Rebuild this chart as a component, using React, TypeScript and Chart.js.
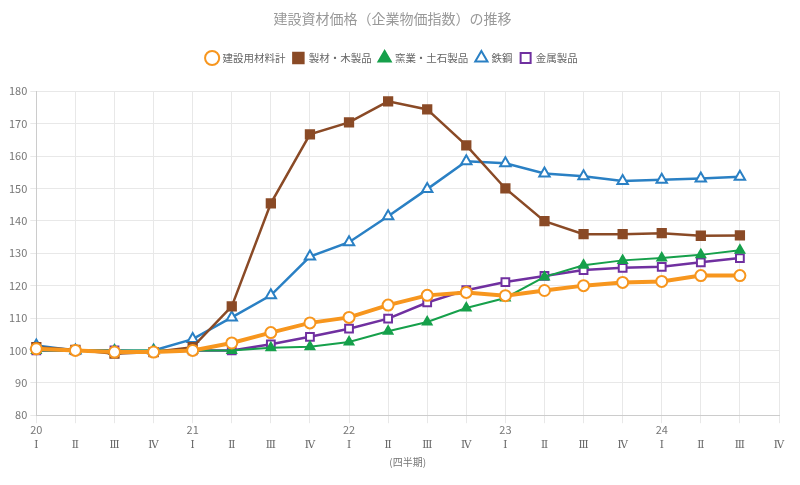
import React, { useEffect, useRef } from "react";
import { Chart, registerables } from "chart.js";

Chart.register(...registerables);

const years = ["20", "", "", "", "21", "", "", "", "22", "", "", "", "23", "", "", "", "24", "", "", ""];
const quarters = ["Ⅰ", "Ⅱ", "Ⅲ", "Ⅳ", "Ⅰ", "Ⅱ", "Ⅲ", "Ⅳ", "Ⅰ", "Ⅱ", "Ⅲ", "Ⅳ", "Ⅰ", "Ⅱ", "Ⅲ", "Ⅳ", "Ⅰ", "Ⅱ", "Ⅲ", "Ⅳ"];

const kenzaiTotal = [100.5, 100, 99.5, 99.5, 100, 102.3, 105.5, 108.5, 110.2, 114, 117, 117.9, 116.9, 118.5, 120, 121, 121.3, 123.1, 123.1, null];
const lumber = [101, 100.2, 99, 99.5, 101, 113.6, 145.4, 166.7, 170.4, 176.9, 174.4, 163.3, 150, 139.9, 135.9, 135.9, 136.2, 135.4, 135.5, null];
const ceramics = [100, 100, 100, 100, 100, 100, 100.8, 101.1, 102.6, 105.9, 108.8, 113.1, 116.2, 122.7, 126.3, 127.8, 128.5, 129.5, 130.9, null];
const steel = [101.5, 100, 99.8, 100, 103.5, 110.2, 117, 129, 133.4, 141.4, 149.8, 158.4, 157.8, 154.6, 153.8, 152.3, 152.7, 153.1, 153.6, null];
const metal = [100, 100, 100, 99.5, 100, 100, 101.9, 104.2, 106.7, 109.8, 114.8, 118.6, 121.1, 123, 124.8, 125.5, 125.8, 127.2, 128.5, null];

const labels = years.map((y, i) => `${y}-${i}`);

const FONT = "'Noto Sans CJK JP', 'Noto Sans', sans-serif";

const legendMargin = {
  id: "legendMargin",
  beforeInit(chart: any) {
    const legend = chart.legend;
    const orig = legend.fit;
    legend.fit = function () {
      orig.bind(legend)();
      this.height += 18;
    };
  },
};

export default function App() {
  const ref = useRef<HTMLCanvasElement | null>(null);
  useEffect(() => {
    document.body.style.margin = "0";
    const ctx = ref.current!;
    const chart = new Chart(ctx, {
      type: "line",
      plugins: [legendMargin],
      data: {
        labels,
        datasets: [
          {
            label: "建設用材料計",
            data: kenzaiTotal,
            borderColor: "#f7961e",
            backgroundColor: "#ffffff",
            borderWidth: 4,
            pointStyle: "circle",
            pointRadius: 5.5,
            pointBorderWidth: 2,
            pointBorderColor: "#f7961e",
            pointBackgroundColor: "#ffffff",
          },
          {
            label: "製材・木製品",
            data: lumber,
            borderColor: "#8a4a26",
            backgroundColor: "#8a4a26",
            borderWidth: 2.5,
            pointStyle: "rect",
            pointRadius: 5.5,
            pointBackgroundColor: "#8a4a26",
          },
          {
            label: "窯業・土石製品",
            data: ceramics,
            borderColor: "#16a04b",
            backgroundColor: "#16a04b",
            borderWidth: 2,
            pointStyle: "triangle",
            pointRadius: 5,
            pointBackgroundColor: "#16a04b",
          },
          {
            label: "鉄鋼",
            data: steel,
            borderColor: "#2a80c4",
            backgroundColor: "#ffffff",
            borderWidth: 2.5,
            pointStyle: "triangle",
            pointRadius: 6,
            pointBorderWidth: 2,
            pointBackgroundColor: "#ffffff",
          },
          {
            label: "金属製品",
            data: metal,
            borderColor: "#7030a0",
            backgroundColor: "#ffffff",
            borderWidth: 2.5,
            pointStyle: "rect",
            pointRadius: 5.5,
            pointBorderWidth: 2,
            pointBackgroundColor: "#ffffff",
          },
        ],
      },
      options: {
        animation: false,
        responsive: false,
        maintainAspectRatio: false,
        layout: { padding: { left: 6, right: 21, top: 6, bottom: 13 } },
        plugins: {
          title: {
            display: true,
            text: "建設資材価格（企業物価指数）の推移",
            color: "#999",
            font: { family: FONT, size: 14, weight: "normal" },
            padding: { top: 4, bottom: 18 },
          },
          legend: {
            position: "top",
            labels: {
              usePointStyle: true,
              boxWidth: 10,
              boxHeight: 10,
              padding: 8,
              color: "#666",
              font: { family: FONT, size: 10.5 },
            },
          },
          tooltip: { enabled: false },
        },
        scales: {
          x: {
            grid: { color: "#e8e8e8", tickLength: 8 },
            border: { color: "#ccc" },
            ticks: {
              color: "#777",
              autoSkip: false,
              maxRotation: 0,
              font: { family: FONT, size: 11 },
              padding: 0,
              callback: (_v: any, i: number) => years[i],
            },
          },
          x2: {
            type: "category",
            position: "bottom",
            labels,
            grid: { display: false },
            border: { display: false },
            ticks: {
              color: "#666",
              autoSkip: false,
              maxRotation: 0,
              font: { family: "'DejaVu Serif', serif", size: 10.5 },
              padding: -5,
              callback: (_v: any, i: number) => quarters[i],
            },
            title: {
              display: true,
              text: "(四半期)",
              color: "#777",
              font: { family: FONT, size: 10 },
              padding: { top: 9 },
            },
          },
          y: {
            min: 80,
            max: 180,
            grid: { color: "#e8e8e8", tickLength: 6 },
            border: { color: "#ccc" },
            ticks: {
              stepSize: 10,
              color: "#777",
              font: { family: FONT, size: 11 },
              padding: 3,
            },
          },
        },
      },
    });
    return () => chart.destroy();
  }, []);
  return <canvas ref={ref} width={800} height={485} style={{ display: "block" }} />;
}
